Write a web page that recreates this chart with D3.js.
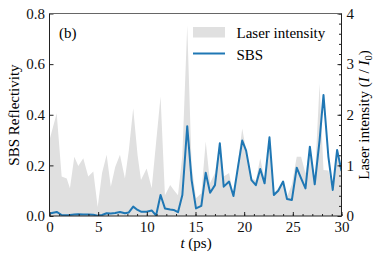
<!DOCTYPE html>
<html>
<head>
<meta charset="utf-8">
<script src="https://cdn.jsdelivr.net/npm/d3@7"></script>
<style>
body { margin: 0; background: #fff; }
text { font-family: 'Liberation Serif', 'Times New Roman', serif; }
</style>
</head>
<body>
<div class="content"></div>
<script>
var width = 381
var height = 261

// time (ps), laser intensity (I/I0), SBS reflectivity
var times = [0, 0.74, 1.25, 1.77, 2.1, 2.55, 2.96, 3.47, 3.98, 4.5, 4.95, 5.4, 5.87, 6.3, 6.75, 7.24, 7.75, 8.15, 8.6,
    9.05, 9.4, 9.98, 10.5, 10.95, 11.41, 11.86, 12.4, 12.75, 13.2, 13.65, 14.15, 14.6, 15.05, 15.6, 16.05, 16.5, 17.0,
    17.5, 17.9, 18.45, 18.9, 19.35, 19.8, 20.2, 20.75, 21.2, 21.65, 22.1, 22.6, 23.05, 23.5, 24.0, 24.4, 24.9, 25.4,
    25.85, 26.3, 26.75, 27.25, 27.75, 28.15, 28.65, 29.1, 29.55, 30.0]
var laser = [1.50, 2.03, 0.78, 0.74, 0.55, 1.17, 0.99, 1.14, 0.78, 0.88, 0.18, 0.85, 1.21, 0.58, 0.97, 1.21, 0.74, 1.30, 2.13,
    1.20, 0.71, 0.94, 0.55, 1.45, 2.36, 0.41, 0.61, 0.52, 0.41, 1.20, 3.77, 1.00, 0.35, 0.45, 1.47, 0.65, 0.85,
    1.47, 0.78, 0.85, 0.41, 1.05, 1.73, 1.30, 0.75, 0.70, 1.14, 0.72, 1.50, 0.45, 0.55, 0.71, 0.38, 0.62, 1.17,
    1.17, 0.84, 1.37, 0.71, 2.61, 0.91, 0.90, 0.51, 1.30, 0.97]
var sbs = [0.010, 0.016, 0.004, 0.003, 0.004, 0.006, 0.007, 0.006, 0.006, 0.005, 0.001, 0.004, 0.011, 0.010, 0.012, 0.016, 0.011, 0.014, 0.037,
    0.024, 0.017, 0.017, 0.022, 0.002, 0.083, 0.030, 0.026, 0.024, 0.015, 0.083, 0.355, 0.142, 0.030, 0.040, 0.171, 0.092, 0.122,
    0.287, 0.116, 0.136, 0.079, 0.190, 0.298, 0.258, 0.142, 0.122, 0.186, 0.129, 0.311, 0.083, 0.100, 0.136, 0.067, 0.063, 0.191,
    0.149, 0.109, 0.274, 0.125, 0.300, 0.478, 0.235, 0.103, 0.261, 0.178]

var xTicks = [0, 5, 10, 15, 20, 25, 30]
var leftTicks = [0, 0.2, 0.4, 0.6, 0.8]
var rightTicks = [0, 1, 2, 3, 4]

var data = times.map(function(t, i) {
    return { t: t, laser: laser[i], sbs: sbs[i] }
})

var margin = { left: 49.5, top: 13.5, right: 39.5, bottom: 45 }
var w = width - margin.left - margin.right
var h = 216 - margin.top

var x = d3.scaleLinear().domain([0, 30]).range([0, w])
var yL = d3.scaleLinear().domain([0, 0.8]).range([h, 0])
var yR = d3.scaleLinear().domain([0, 4]).range([h, 0])

var svg = d3.select('.content').append('svg')
    .attr('width', width)
    .attr('height', height)

var g = svg.append('g')
    .attr('transform', 'translate(' + margin.left + ',' + margin.top + ')')

g.append('clipPath').attr('id', 'clip')
    .append('rect').attr('width', w).attr('height', h)

var area = d3.area()
    .x(function(d) { return x(d.t) })
    .y0(yR(0))
    .y1(function(d) { return yR(d.laser) })

var line = d3.line()
    .x(function(d) { return x(d.t) })
    .y(function(d) { return yL(d.sbs) })

g.append('path')
    .datum(data)
    .attr('clip-path', 'url(#clip)')
    .attr('d', area)
    .style('fill', '#e0e0e0')

g.append('path')
    .datum(data)
    .attr('clip-path', 'url(#clip)')
    .attr('d', line)
    .style('fill', 'none')
    .style('stroke', '#1f77b4')
    .style('stroke-width', 2)
    .style('stroke-linejoin', 'round')

function styleAxis(sel) {
    sel.select('.domain').remove()
    sel.selectAll('line').style('stroke', '#222').style('stroke-width', 1)
    sel.selectAll('text').style('font-size', '15px').style('fill', '#111')
        .style('font-family', "'Liberation Serif', serif")
}

// minor ticks
g.append('g').attr('transform', 'translate(0,' + h + ')')
    .call(d3.axisBottom(x).tickValues(d3.range(0, 31, 1)).tickSize(-2).tickFormat(''))
    .call(styleAxis)
g.append('g').attr('transform', 'translate(' + w + ',0)')
    .call(d3.axisRight(yR).tickValues(d3.range(0, 4.01, 0.2)).tickSize(-2.5).tickFormat(''))
    .call(styleAxis)

// major ticks
g.append('g').attr('transform', 'translate(0,' + h + ')')
    .call(d3.axisBottom(x).tickValues(xTicks).tickSize(-4).tickPadding(5).tickFormat(d3.format('d')))
    .call(styleAxis)
g.append('g')
    .call(d3.axisLeft(yL).tickValues(leftTicks).tickSize(-4).tickPadding(4.5).tickFormat(d3.format('.1f')))
    .call(styleAxis)
g.append('g').attr('transform', 'translate(' + w + ',0)')
    .call(d3.axisRight(yR).tickValues(rightTicks).tickSize(-4).tickPadding(5).tickFormat(d3.format('d')))
    .call(styleAxis)

// frame
g.append('line').attr('x1', 0).attr('x2', w).attr('y1', 0).attr('y2', 0)
    .style('stroke', '#666').style('stroke-width', 1)
g.append('line').attr('x1', 0).attr('x2', w).attr('y1', h).attr('y2', h)
    .style('stroke', '#222').style('stroke-width', 1)
g.append('line').attr('x1', 0).attr('x2', 0).attr('y1', 0).attr('y2', h)
    .style('stroke', '#222').style('stroke-width', 1)
g.append('line').attr('x1', w).attr('x2', w).attr('y1', 0).attr('y2', h)
    .style('stroke', '#222').style('stroke-width', 1)

// panel tag
svg.append('text')
    .attr('x', 59)
    .attr('y', 38)
    .style('font-size', '15px')
    .text('(b)')

// legend
var legend = svg.append('g').attr('transform', 'translate(193,0)')
legend.append('rect')
    .attr('x', 0).attr('y', 27).attr('width', 32).attr('height', 10.5)
    .style('fill', '#e0e0e0')
legend.append('text')
    .attr('x', 43.5).attr('y', 38)
    .style('font-size', '15px')
    .text('Laser intensity')
legend.append('line')
    .attr('x1', 0).attr('x2', 32).attr('y1', 53.5).attr('y2', 53.5)
    .style('stroke', '#1f77b4').style('stroke-width', 2)
legend.append('text')
    .attr('x', 43.5).attr('y', 59.5)
    .style('font-size', '15px')
    .text('SBS')

// axis labels
svg.append('text')
    .attr('transform', 'translate(19,115) rotate(-90)')
    .attr('text-anchor', 'middle')
    .style('font-size', '15px')
    .text('SBS Reflectivity')

var xl = svg.append('text')
    .attr('x', 196)
    .attr('y', 248)
    .attr('text-anchor', 'middle')
    .style('font-size', '15px')
xl.append('tspan').style('font-style', 'italic').text('t')
xl.append('tspan').text(' (ps)')

var yl = svg.append('text')
    .attr('transform', 'translate(369,115) rotate(-90)')
    .attr('text-anchor', 'middle')
    .style('font-size', '15px')
yl.append('tspan').text('Laser intensity (')
yl.append('tspan').style('font-style', 'italic').text('I')
yl.append('tspan').text(' / ')
yl.append('tspan').style('font-style', 'italic').text('I')
yl.append('tspan').attr('dy', 3).style('font-size', '10.5px').text('0')
yl.append('tspan').attr('dy', -3).text(')')
</script>
</body>
</html>
